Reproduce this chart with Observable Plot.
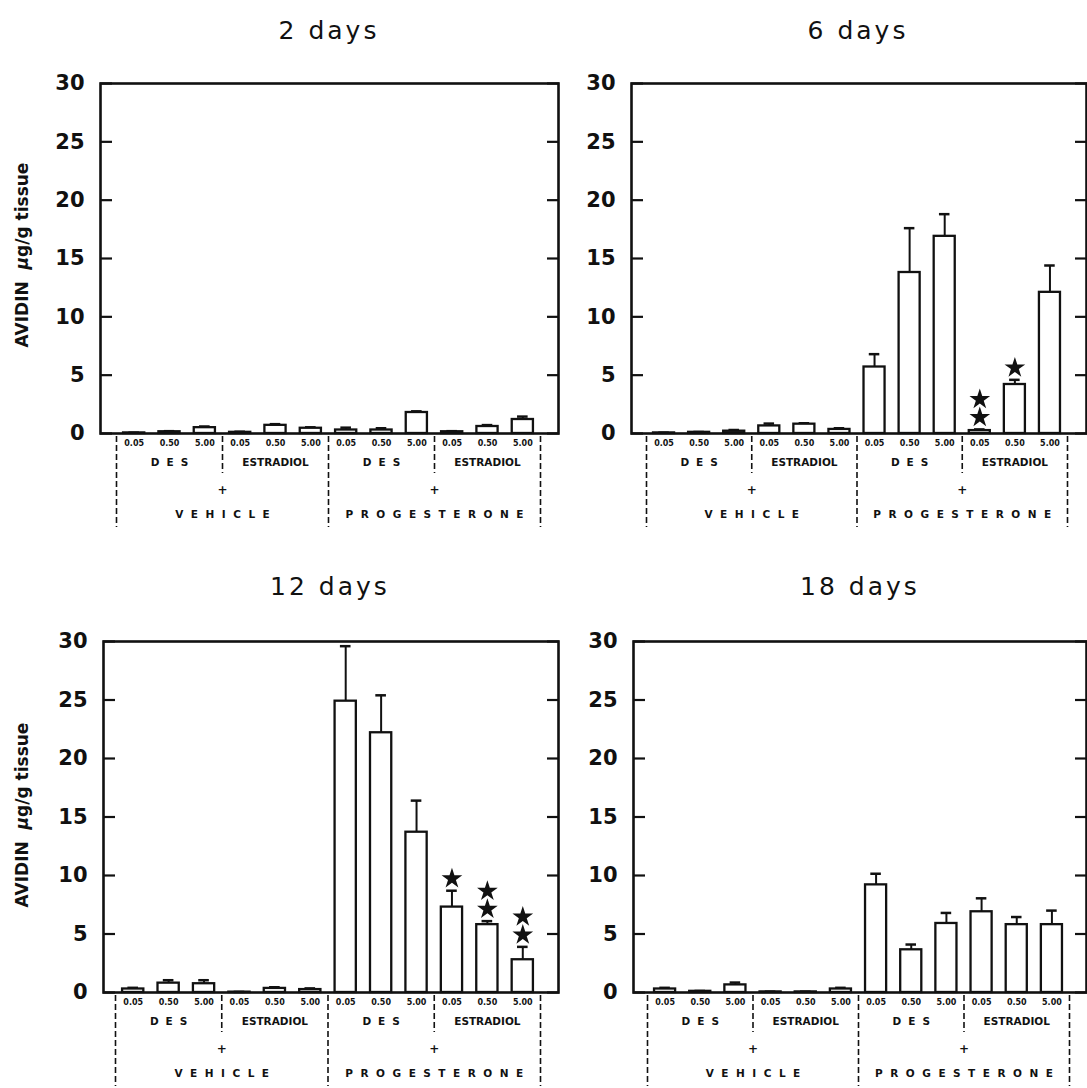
<!DOCTYPE html>
<html><head><meta charset="utf-8">
<script src="https://cdn.jsdelivr.net/npm/d3@7"></script>
<script src="https://cdn.jsdelivr.net/npm/@observablehq/plot@0.6"></script>
<style>
body{margin:0;background:#fff;}
#root{position:relative;width:1087px;height:1088px;overflow:hidden;background:#fff;}
.title{position:absolute;font-family:"DejaVu Sans";font-size:25px;line-height:25px;letter-spacing:3px;color:#111;transform:translateX(-50%);white-space:nowrap;}
.ylab{position:absolute;font-family:"DejaVu Sans";font-weight:bold;font-size:17px;white-space:nowrap;transform:translate(-50%,-50%) rotate(-90deg);color:#111;}
.panel{position:absolute;}
</style></head><body><div id="root"></div>
<script>
// ---- data ----
const doses = ["0.05", "0.50", "5.00"];
const estrogens = ["DES", "ESTRADIOL"];
const treatments = ["VEHICLE", "PROGESTERONE"];
const yTicks = [0, 5, 10, 15, 20, 25, 30];

const titles = ["2 days", "6 days", "12 days", "18 days"];

const mean2  = [0.05, 0.15, 0.5, 0.1, 0.7, 0.45, 0.3, 0.3, 1.8, 0.15, 0.6, 1.2];
const se2    = [0.02, 0.05, 0.1, 0.05, 0.1, 0.08, 0.2, 0.15, 0.1, 0.05, 0.12, 0.25];
const mean6  = [0.05, 0.1, 0.2, 0.65, 0.8, 0.35, 5.7, 13.8, 16.9, 0.25, 4.2, 12.1];
const se6    = [0.02, 0.03, 0.1, 0.2, 0.08, 0.1, 1.1, 3.8, 1.9, 0.1, 0.4, 2.3];
const mean12 = [0.3, 0.8, 0.75, 0.03, 0.35, 0.25, 24.9, 22.2, 13.7, 7.3, 5.8, 2.8];
const se12   = [0.1, 0.25, 0.3, 0.02, 0.1, 0.1, 4.7, 3.2, 2.7, 1.4, 0.3, 1.1];
const mean18 = [0.3, 0.1, 0.65, 0.05, 0.05, 0.3, 9.2, 3.65, 5.9, 6.9, 5.8, 5.8];
const se18   = [0.1, 0.03, 0.2, 0.02, 0.02, 0.1, 0.95, 0.45, 0.9, 1.15, 0.65, 1.2];

// number of significance stars per bar
const stars2  = [0,0,0,0,0,0,0,0,0,0,0,0];
const stars6  = [0,0,0,0,0,0,0,0,0,2,1,0];
const stars12 = [0,0,0,0,0,0,0,0,0,1,2,2];
const stars18 = [0,0,0,0,0,0,0,0,0,0,0,0];

// ---- layout ----
const layouts = [
  {left: 0,   top: 60,  width: 565, height: 480, ml: 100, mr: 7, mt: 23, zero: 433, xr: [116, 540], titleX: 329, titleTop: 18,  ylab: 255},
  {left: 545, top: 60,  width: 542, height: 480, ml: 86,  mr: 1, mt: 23, zero: 433, xr: [101, 522], titleX: 858, titleTop: 18,  ylab: null},
  {left: 0,   top: 618, width: 565, height: 470, ml: 103, mr: 7, mt: 23, zero: 992, xr: [115, 540], titleX: 330, titleTop: 574, ylab: 815},
  {left: 545, top: 618, width: 542, height: 470, ml: 88,  mr: 1, mt: 23, zero: 992, xr: [102, 524], titleX: 860, titleTop: 574, ylab: null}
];
const series = [[mean2, se2, stars2], [mean6, se6, stars6], [mean12, se12, stars12], [mean18, se18, stars18]];

const root = document.getElementById("root");
const FONT = "DejaVu Sans";
const spaced = new Set(["DES", "VEHICLE", "PROGESTERONE"]);

series.forEach(([means, ses, stars], p) => {
  const L = layouts[p];
  const data = means.map((m, i) => ({
    i, mean: m, upper: m + ses[i], stars: stars[i],
    dose: doses[i % 3],
    estrogen: estrogens[Math.floor(i / 3) % 2],
    treatment: treatments[Math.floor(i / 6)]
  }));
  const groups = d3.range(4).map(g => ({x: g * 3 + 1.5, label: estrogens[g % 2]}));
  const treat = treatments.map((t, k) => ({x: k * 6 + 3, label: t}));
  const frameH = L.zero - L.top - L.mt;
  const mb = L.height - (L.zero - L.top);

  const chart = Plot.plot({
    width: L.width, height: L.height,
    marginLeft: L.ml, marginRight: L.mr, marginTop: L.mt, marginBottom: mb,
    style: {fontFamily: FONT, background: "transparent", overflow: "visible", color: "#111"},
    x: {type: "linear", domain: [0, 12], range: L.xr, axis: null},
    y: {domain: [0, 30], axis: null},
    r: {type: "identity"},
    marks: [
      // separators
      Plot.ruleX([0, 6, 12], {x: d => d, insetTop: frameH + 3, insetBottom: -94, stroke: "#111", strokeWidth: 1.6, strokeDasharray: "6,3"}),
      Plot.ruleX([3, 9], {x: d => d, insetTop: frameH + 3, insetBottom: -40, stroke: "#111", strokeWidth: 1.6, strokeDasharray: "6,3"}),
      // bars
      Plot.ruleX(data, {x: d => d.i + 0.5, y1: "mean", y2: "upper", stroke: "#111", strokeWidth: 2}),
      Plot.ruleY(data, {y: "upper", x1: d => d.i + 0.35, x2: d => d.i + 0.65, stroke: "#111", strokeWidth: 2.5}),
      Plot.rectY(data, {x1: d => d.i + 0.2, x2: d => d.i + 0.8, y1: 0, y2: "mean", fill: "white", stroke: "#111", strokeWidth: 2.3}),
      // significance stars
      Plot.dot(data.filter(d => d.stars >= 1), {x: d => d.i + 0.5, y: "upper", symbol: "star", r: 6.5, dy: -12, fill: "#111", stroke: "none"}),
      Plot.dot(data.filter(d => d.stars >= 2), {x: d => d.i + 0.5, y: "upper", symbol: "star", r: 6.5, dy: -30, fill: "#111", stroke: "none"}),
      // frame + axes
      Plot.frame({stroke: "#111", strokeWidth: 2.6}),
      Plot.axisY(yTicks, {anchor: "left", tickSize: -12, tickPadding: 28, strokeWidth: 2.2, fontSize: 21, fontWeight: "bold", fontFamily: FONT, tickFormat: d => String(d), label: null}),
      Plot.axisY(yTicks, {anchor: "right", tickSize: -12, strokeWidth: 2.2, tickFormat: () => "", label: null}),
      // category labels
      Plot.text(data, {x: d => d.i + 0.5, text: "dose", frameAnchor: "bottom", dy: 12, fontSize: 8, fontWeight: "bold", fill: "#111"}),
      Plot.text(groups, {x: "x", text: "label", frameAnchor: "bottom", dy: 32, fontSize: 10.5, fontWeight: "bold", fill: "#111"}),
      Plot.text(treat, {x: "x", text: () => "+", frameAnchor: "bottom", dy: 60, fontSize: 12, fontWeight: "bold", fill: "#111"}),
      Plot.text(treat, {x: "x", text: "label", frameAnchor: "bottom", dy: 84, fontSize: 10.5, fontWeight: "bold", fill: "#111"})
    ]
  });
  // letter spacing for spaced labels
  d3.select(chart).selectAll("text").each(function() {
    const s = this.textContent;
    if (spaced.has(s)) {
      const ls = s === "DES" ? 7 : 7.5;
      d3.select(this).attr("letter-spacing", ls + "px");
      const tx = this.getAttribute("transform") || "";
      d3.select(this).attr("transform", tx + ` translate(${ls / 2},0)`);
    }
  });

  const wrap = document.createElement("div");
  wrap.className = "panel";
  wrap.style.left = L.left + "px";
  wrap.style.top = L.top + "px";
  wrap.appendChild(chart);
  root.appendChild(wrap);

  const t = document.createElement("div");
  t.className = "title";
  t.textContent = titles[p];
  t.style.left = L.titleX + "px";
  t.style.top = L.titleTop + "px";
  root.appendChild(t);

  if (L.ylab) {
    const y = document.createElement("div");
    y.className = "ylab";
    y.innerHTML = 'AVIDIN&nbsp;&nbsp;<i>µ</i>g/g tissue';
    y.style.left = "22px";
    y.style.top = L.ylab + "px";
    root.appendChild(y);
  }
});
</script></body></html>
